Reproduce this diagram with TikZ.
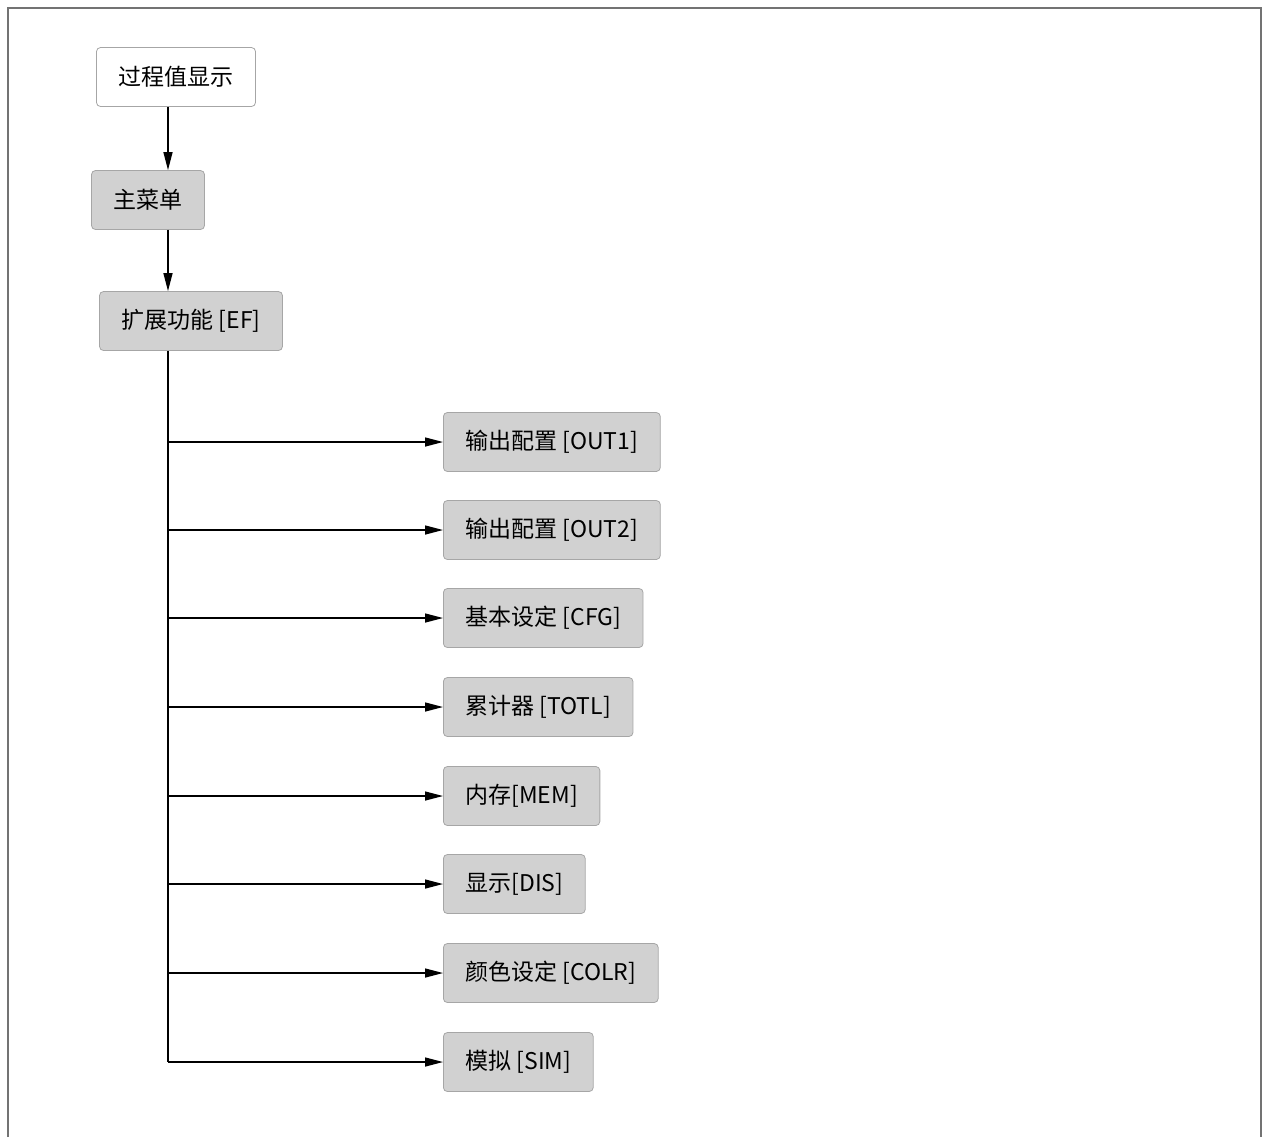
\documentclass[tikz,border=0pt]{standalone}
\usepackage{fontspec}
\setmainfont{Liberation Sans}
\newfontfamily\cjk{Noto Sans CJK SC}
\usetikzlibrary{arrows.meta}
\begin{document}
\begin{tikzpicture}
  [x=0.5pt,y=-0.5pt,
   every node/.style={draw=black!35,rounded corners=2pt,fill=black!18,
     minimum height=29.5pt,inner xsep=11pt,font=\cjk\fontsize{11.5}{13}\selectfont},
   arr/.style={-{Triangle[length=9pt,width=4.5pt]},line width=0.7pt}]
  \tikzstyle{top} = [fill=white]
  \useasboundingbox (0,0) rectangle (1268,1137);
  \draw[black!55,line width=1pt] (8,1137) -- (8,8) -- (1261,8) -- (1261,1137);
  \node[top] (pv)  at (176,77)  {过程值显示};
  \node (menu) at (148,200) {主菜单};
  \node (ef)   at (191,321) {扩展功能 [EF]};
  \draw[arr] (pv.south -| 168,0) -- (menu.north -| 168,0);
  \draw[arr] (menu.south -| 168,0) -- (ef.north -| 168,0);
  \coordinate (trunk) at (168,1062);
  \draw[line width=0.7pt] (ef.south -| trunk) -- (trunk);
  \foreach \name/\y/\txt in {o1/442/输出配置 [OUT1],o2/530/输出配置 [OUT2],
      cfg/618/基本设定 [CFG],totl/707/累计器 [TOTL],mem/796/内存[MEM],
      dis/884/显示[DIS],colr/973/颜色设定 [COLR],sim/1062/模拟 [SIM]} {
    \node[anchor=west] (\name) at (443,\y) {\txt};
    \coordinate (j\name) at (168,\y);
    \draw[arr] (j\name) -- (\name);
  }
\end{tikzpicture}
\end{document}
